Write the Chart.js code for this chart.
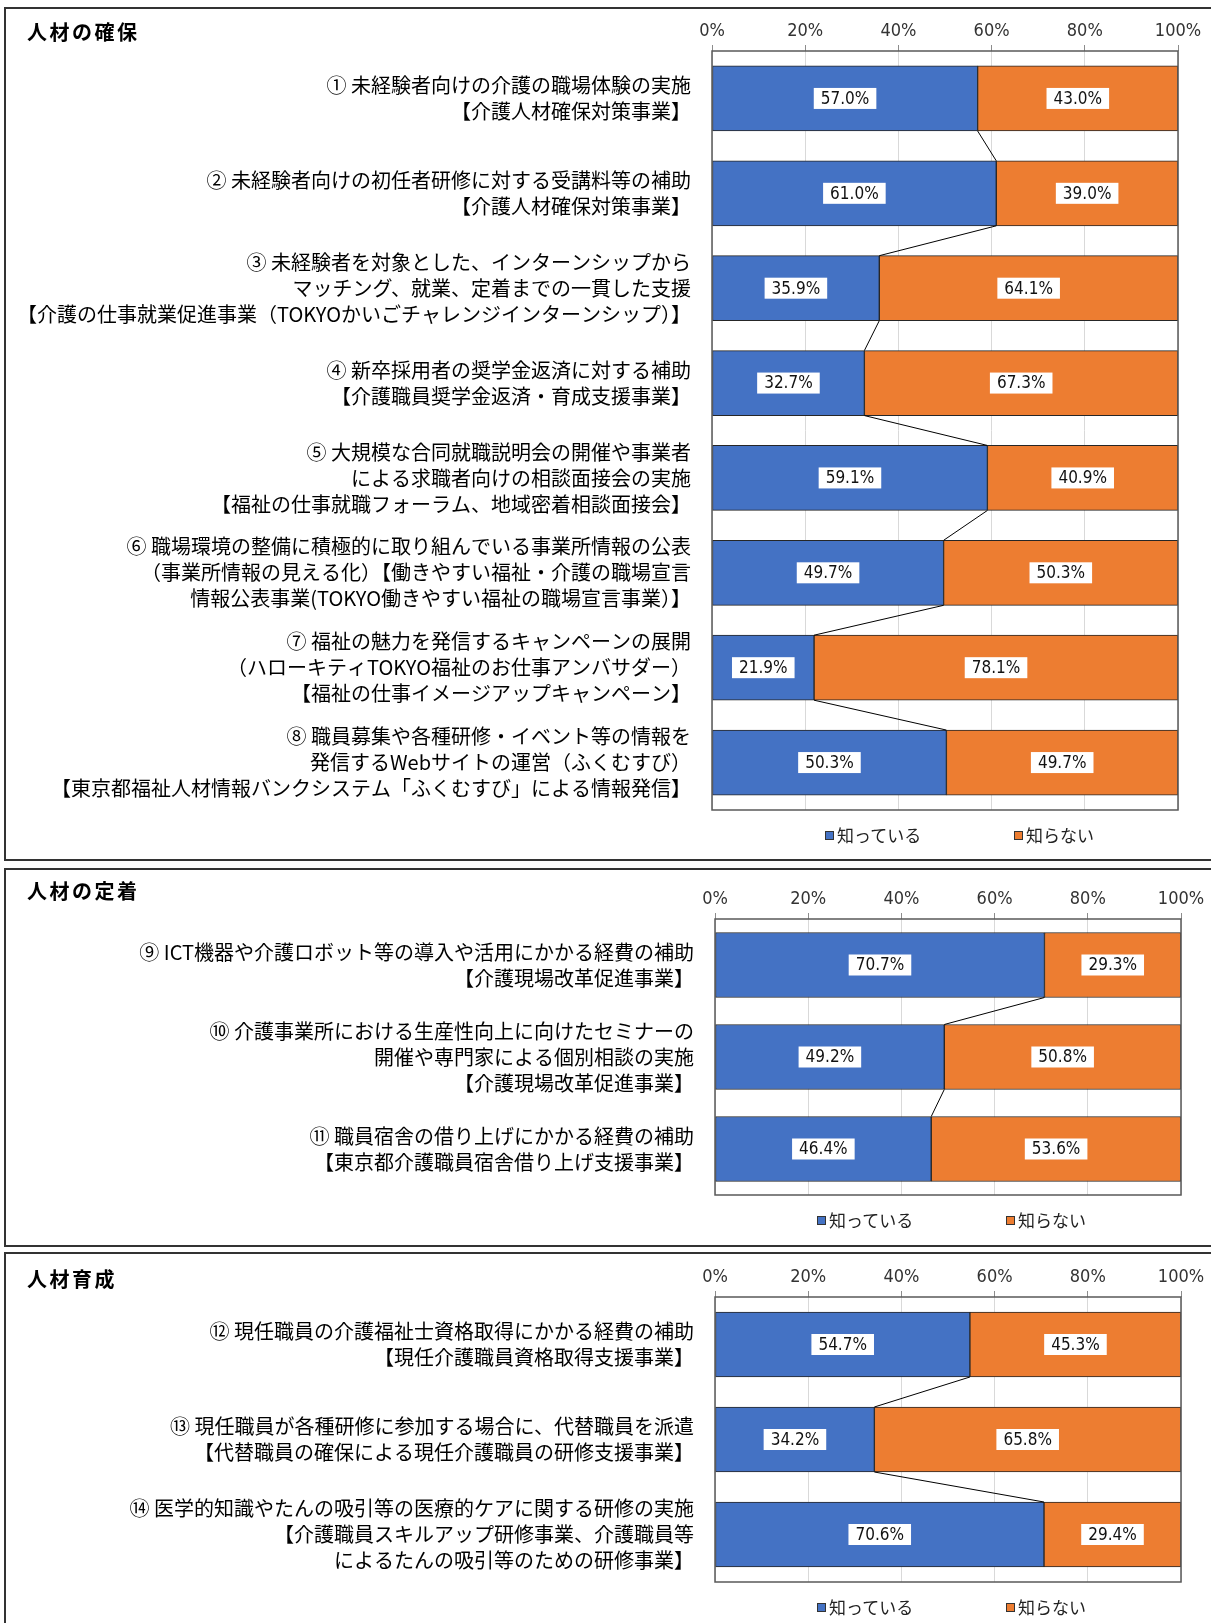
<!DOCTYPE html>
<html lang="ja">
<head>
<meta charset="utf-8">
<title>人材の確保・定着・育成</title>
<script src="https://cdn.jsdelivr.net/npm/chart.js@4.4.1/dist/chart.umd.min.js"></script>
<style>
  html, body { margin: 0; padding: 0; background: #fff; }
  body { width: 1211px; height: 1623px; position: relative; overflow: hidden; font-family: 'Noto Sans CJK JP', sans-serif; }
  .panel { position: absolute; left: 4px; width: 1240px; border: 2px solid #333; box-sizing: border-box; }
  canvas { position: absolute; left: 0; }
  .ttl { position: absolute; left: 27px; font-weight: bold; font-size: 20px; line-height: 24px; letter-spacing: 2.5px; color: #000; }
  .legend { position: absolute; display: flex; font-size: 17px; line-height: 20px; color: #222; }
  .legend .item { display: flex; align-items: center; width: 189px; }
  .legend i { display: inline-block; width: 7px; height: 7px; border: 1px solid #333; margin-right: 3px; }
</style>
</head>
<body>

<div class="panel" style="top:7px;height:854px"></div>
<div class="panel" style="top:868px;height:379px"></div>
<div class="panel" style="top:1252px;height:400px"></div>

<canvas id="c1" width="1211" height="852" style="top:8px"></canvas>
<canvas id="c2" width="1211" height="377" style="top:869px"></canvas>
<canvas id="c3" width="1211" height="370" style="top:1253px"></canvas>

<div class="ttl" id="t1" style="top:20px"></div>
<div class="ttl" id="t2" style="top:879px"></div>
<div class="ttl" id="t3" style="top:1267px"></div>

<div class="legend" id="l1" style="left:825px;top:825px"></div>
<div class="legend" id="l2" style="left:817px;top:1210px"></div>
<div class="legend" id="l3" style="left:817px;top:1597px"></div>

<script>
// --- データ ---
const seriesNames = ["知っている", "知らない"];
const seriesColors = ["#4472C4", "#ED7D31"];
const xTicks = [0, 20, 40, 60, 80, 100];
const panelTitles = ["人材の確保", "人材の定着", "人材育成"];

const labelsKakuho = [
  ["① 未経験者向けの介護の職場体験の実施", "【介護人材確保対策事業】"],
  ["② 未経験者向けの初任者研修に対する受講料等の補助", "【介護人材確保対策事業】"],
  ["③ 未経験者を対象とした、インターンシップから", "マッチング、就業、定着までの一貫した支援", "【介護の仕事就業促進事業（TOKYOかいごチャレンジインターンシップ）】"],
  ["④ 新卒採用者の奨学金返済に対する補助", "【介護職員奨学金返済・育成支援事業】"],
  ["⑤ 大規模な合同就職説明会の開催や事業者", "による求職者向けの相談面接会の実施", "【福祉の仕事就職フォーラム、地域密着相談面接会】"],
  ["⑥ 職場環境の整備に積極的に取り組んでいる事業所情報の公表", "（事業所情報の見える化）【働きやすい福祉・介護の職場宣言", "情報公表事業(TOKYO働きやすい福祉の職場宣言事業）】"],
  ["⑦ 福祉の魅力を発信するキャンペーンの展開", "（ハローキティTOKYO福祉のお仕事アンバサダー）", "【福祉の仕事イメージアップキャンペーン】"],
  ["⑧ 職員募集や各種研修・イベント等の情報を", "発信するWebサイトの運営（ふくむすび）", "【東京都福祉人材情報バンクシステム「ふくむすび」による情報発信】"]
];
const knowKakuho   = [57.0, 61.0, 35.9, 32.7, 59.1, 49.7, 21.9, 50.3];
const unknowKakuho = [43.0, 39.0, 64.1, 67.3, 40.9, 50.3, 78.1, 49.7];

const labelsTeichaku = [
  ["⑨ ICT機器や介護ロボット等の導入や活用にかかる経費の補助", "【介護現場改革促進事業】"],
  ["⑩ 介護事業所における生産性向上に向けたセミナーの", "開催や専門家による個別相談の実施", "【介護現場改革促進事業】"],
  ["⑪ 職員宿舎の借り上げにかかる経費の補助", "【東京都介護職員宿舎借り上げ支援事業】"]
];
const knowTeichaku   = [70.7, 49.2, 46.4];
const unknowTeichaku = [29.3, 50.8, 53.6];

const labelsIkusei = [
  ["⑫ 現任職員の介護福祉士資格取得にかかる経費の補助", "【現任介護職員資格取得支援事業】"],
  ["⑬ 現任職員が各種研修に参加する場合に、代替職員を派遣", "【代替職員の確保による現任介護職員の研修支援事業】"],
  ["⑭ 医学的知識やたんの吸引等の医療的ケアに関する研修の実施", "【介護職員スキルアップ研修事業、介護職員等", "によるたんの吸引等のための研修事業】"]
];
const knowIkusei   = [54.7, 34.2, 70.6];
const unknowIkusei = [45.3, 65.8, 29.4];

// --- レイアウト ---
const numFont = "'Liberation Sans Narrow', 'Arial Narrow', 'DejaVu Sans Condensed', 'Noto Sans', sans-serif";
const jpFont = "'Noto Sans CJK JP', sans-serif";

const paneles = [
  { canvas: "c1", axisH: 43, yW: 712, padR: 33, padB: 50, labels: labelsKakuho, know: knowKakuho, unknow: unknowKakuho },
  { canvas: "c2", axisH: 50, yW: 715, padR: 30, padB: 51, labels: labelsTeichaku, know: knowTeichaku, unknow: unknowTeichaku },
  { canvas: "c3", axisH: 44, yW: 715, padR: 30, padB: 41, labels: labelsIkusei, know: knowIkusei, unknow: unknowIkusei }
];

// 枠線・系列線・データラベル
const extras = {
  id: "extras",
  afterDatasetsDraw(chart) {
    const ctx = chart.ctx;
    const a = chart.chartArea;
    ctx.save();
    ctx.strokeStyle = "#595959";
    ctx.lineWidth = 1.5;
    ctx.strokeRect(a.left, a.top, a.right - a.left, a.bottom - a.top);

    const bars = chart.getDatasetMeta(0).data;
    ctx.strokeStyle = "#000";
    ctx.lineWidth = 1;
    ctx.beginPath();
    for (let i = 0; i < bars.length - 1; i++) {
      const b1 = bars[i], b2 = bars[i + 1];
      ctx.moveTo(b1.x, b1.y + b1.height / 2);
      ctx.lineTo(b2.x, b2.y - b2.height / 2);
    }
    ctx.stroke();

    ctx.font = "17px " + numFont;
    ctx.textAlign = "center";
    ctx.textBaseline = "middle";
    chart.data.datasets.forEach((ds, di) => {
      chart.getDatasetMeta(di).data.forEach((bar, i) => {
        const txt = ds.data[i].toFixed(1) + "%";
        const cx = (bar.x + bar.base) / 2;
        const w = ctx.measureText(txt).width + 14;
        ctx.fillStyle = "#fff";
        ctx.fillRect(cx - w / 2, bar.y - 10.5, w, 21);
        ctx.fillStyle = "#111";
        ctx.fillText(txt, cx, bar.y + 1);
      });
    });
    ctx.restore();
  }
};

paneles.forEach((p, n) => {
  document.getElementById("t" + (n + 1)).textContent = panelTitles[n];

  const leg = document.getElementById("l" + (n + 1));
  seriesNames.forEach((name, k) => {
    const it = document.createElement("span");
    it.className = "item";
    it.innerHTML = '<i style="background:' + seriesColors[k] + '"></i>' + name;
    leg.appendChild(it);
  });

  new Chart(document.getElementById(p.canvas), {
    type: "bar",
    data: {
      labels: p.labels,
      datasets: [
        { label: seriesNames[0], data: p.know, backgroundColor: seriesColors[0] },
        { label: seriesNames[1], data: p.unknow, backgroundColor: seriesColors[1] }
      ]
    },
    options: {
      indexAxis: "y",
      responsive: false,
      animation: false,
      layout: { padding: { top: 0, left: 0, right: p.padR, bottom: p.padB } },
      datasets: {
        bar: { barThickness: 65, borderColor: "#262626", borderWidth: 1, borderSkipped: false }
      },
      plugins: { legend: { display: false }, tooltip: { enabled: false } },
      scales: {
        x: {
          position: "top",
          stacked: true,
          min: 0,
          max: 100,
          afterBuildTicks: s => { s.ticks = xTicks.map(v => ({ value: v })); },
          ticks: { callback: v => v + "%", color: "#333", font: { family: numFont, size: 18 }, padding: 3, maxRotation: 0 },
          grid: { color: "#d9d9d9", tickColor: "#8c8c8c", tickLength: 6 },
          border: { display: false },
          afterFit: s => { s.height = p.axisH; s.paddingLeft = 0; s.paddingRight = 0; }
        },
        y: {
          stacked: true,
          ticks: { color: "#000", font: { family: jpFont, size: 20, lineHeight: 1.3 }, padding: 21, autoSkip: false },
          grid: { display: false, drawTicks: false },
          border: { display: false },
          afterFit: s => { s.width = p.yW; s.paddingTop = 0; s.paddingBottom = 0; }
        }
      }
    },
    plugins: [extras]
  });
});
</script>
</body>
</html>
